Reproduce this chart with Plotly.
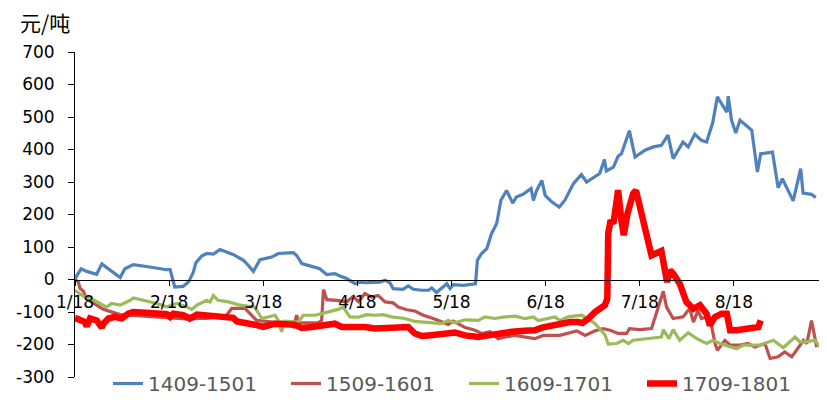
import plotly.graph_objects as go

# ---- data (x = trading-day index counted from 1/18; y = spread in 元/吨) ----
tick_vals = [0, 20, 40, 60, 80, 100, 120, 140]
tick_text = ["1/18", "2/18", "3/18", "4/18", "5/18", "6/18", "7/18", "8/18"]
y_tick_vals = [-300, -200, -100, 0, 100, 200, 300, 400, 500, 600, 700]
y_tick_text = ["-300", "-200", "-100", "0", "100", "200", "300", "400", "500", "600", "700"]
series_names = ["1409-1501", "1509-1601", "1609-1701", "1709-1801"]

blue_x = [0,1.3,2.5,4.6,5.7,6.7,8.5,9.6,10.6,12.4,15.2,19.5,20.2,21.2,23,24.1,25.1,25.7,26.9,28,29.4,30.8,33.6,34.4,35.8,36.8,37.9,39.3,41.8,43.2,46.4,47.1,48.2,49.9,52,53.5,55.2,56.3,57.7,59.5,60.5,61.6,64.8,65.9,66.9,67.6,69.7,70.8,71.9,73.7,75.1,75.8,76.8,78.2,79,79.7,80.4,82.5,84.3,85.1,85.5,86.4,87.5,88.5,89.6,90.1,90.5,91.7,93,93.8,95.2,96.9,97.4,98.1,99.2,99.9,101.3,102.9,104.1,105.9,107.6,108.7,110.1,111.5,112.5,112.9,114.4,115.4,116.1,117.8,119,121.1,122.9,124.6,126,127.1,129.2,130.3,131.7,133.1,134.2,135.5,136.5,138.5,138.8,139.5,140.4,141.3,143,143.8,145,145.7,148.2,149.4,150.3,152.6,154.2,154.7,156.5,157.4]
blue_y = [3,33,25,16,48,37,18,6,33,46,40,30,31,-23,-21,-8,21,52,72,80,78,92,77,71,59,44,25,61,69,80,83,74,49,42,33,15,18,11,3,-13,-8,-10,-8,-2,-10,-28,-30,-20,-30,-33,-33,-26,-40,-23,-13,-28,-16,-18,-13,-13,59,80,95,141,172,213,244,274,235,254,262,280,243,274,305,259,239,223,244,295,323,300,313,326,369,334,346,379,387,458,377,398,408,413,444,372,423,408,447,428,423,482,562,515,564,490,451,490,469,459,331,387,392,282,310,242,341,266,262,252]

brown_x = [0,0.7,1.1,1.8,2.3,3.2,4.6,6,7.4,9.6,13.8,20.2,24.4,26.1,28,32.2,33.3,36.1,37.5,38.6,42.1,45,46.4,47.1,47.5,49.6,51.7,52.4,52.8,53.5,55.6,57.7,59.1,60.2,61.6,63,64.4,65.9,67.6,68.7,70.5,72.2,74,76.1,78.2,79.3,80.4,82.9,85,86.4,88.2,89.9,91.4,93.5,97.7,99.5,103,104.8,106.6,108.4,110.5,112.2,113.7,115.4,117.2,117.8,120,122.5,123.5,125,125.7,127.1,129.2,130.6,131.4,132.4,133.1,134.2,135.3,136,136.5,138.1,139.2,141.3,143,144.5,146.6,147.7,149.4,150.8,152.3,153.7,154.8,155.5,156.5,157.6]
brown_y = [0,-8,-28,-36,-57,-67,-79,-92,-98,-108,-112,-118,-122,-120,-120,-110,-89,-89,-110,-126,-131,-131,-146,-110,-133,-134,-133,-126,-31,-62,-64,-69,-52,-68,-43,-54,-49,-69,-72,-85,-93,-97,-110,-120,-131,-138,-128,-148,-156,-166,-161,-182,-177,-172,-182,-172,-172,-166,-158,-172,-158,-151,-156,-166,-166,-151,-154,-151,-105,-36,-85,-120,-115,-89,-131,-95,-120,-115,-146,-197,-218,-187,-202,-202,-197,-208,-197,-243,-238,-223,-238,-208,-187,-197,-126,-208]

green_x = [0,1.8,4.1,6.7,7.8,9.6,11.7,12.4,14.5,17.4,19.5,21.6,23.4,24.8,25.9,28,28.7,29.4,30.4,32.6,35.1,38.2,39.7,41.4,42.5,43.2,43.9,44.6,47.4,48.5,51,52.4,54.5,55.9,57,58.4,60.2,62,63.7,65.5,67.3,70.1,72.2,75.1,77.9,79.3,80.7,82.9,85.7,87.1,89.2,91.4,93.5,95.6,97.4,98.4,102,103,104.8,107.6,109.1,110.5,111.5,112.6,113.3,115.1,116.5,117.6,118.6,122.2,124.6,125,126.2,127.1,128.5,130.3,132.1,134.2,135.6,137,139.2,140.6,142,145.5,148.4,150.5,153,154,155.4,157.2,158.3]
green_y = [-33,-52,-64,-85,-74,-79,-64,-57,-64,-74,-84,-74,-82,-92,-79,-64,-69,-49,-64,-69,-79,-85,-120,-115,-110,-126,-161,-128,-131,-110,-110,-105,-98,-92,-85,-115,-116,-108,-110,-108,-115,-120,-129,-133,-136,-126,-133,-124,-126,-115,-120,-115,-113,-120,-115,-126,-115,-126,-115,-110,-120,-136,-154,-170,-199,-197,-187,-197,-187,-182,-177,-154,-182,-154,-187,-164,-182,-197,-187,-197,-208,-213,-202,-202,-187,-210,-177,-192,-192,-187,-208]

red_x = [0,1.1,2.1,2.5,3.2,4.6,5.7,6,7.1,8.5,9.9,11.3,12.4,15.9,19.5,20.2,20.9,23,24.4,25.9,30.1,33.6,34.4,36.5,38.2,40,42.5,46.7,48.2,50.3,52.4,55.2,56.7,61.6,63.7,66.6,70.8,72.2,73.7,75.1,76.5,77.9,79.3,80.7,82.9,85.7,87.8,89.9,92.8,95.6,97.7,99.2,100.6,102.3,103.7,105.2,106.9,107.8,109.1,110.5,112.6,113.1,113.3,113.8,114.4,115.1,115.4,116.1,116.6,117.4,118.6,119.2,120,122.5,124.6,125.8,126.4,127.1,128.5,129.9,131.4,132.8,134.2,134.9,136,137.4,138.5,139.2,140.6,142.7,144.1,145.2,145.7]
red_y = [-118,-126,-131,-144,-120,-126,-148,-136,-120,-115,-120,-105,-100,-103,-107,-115,-105,-110,-120,-108,-112,-118,-129,-133,-139,-146,-136,-139,-149,-146,-143,-136,-146,-146,-151,-149,-146,-166,-174,-172,-170,-172,-166,-163,-172,-177,-172,-166,-161,-158,-156,-148,-144,-138,-136,-131,-131,-134,-120,-100,-79,-59,141,182,172,269,275,182,136,203,264,274,223,74,88,-8,28,18,-13,-69,-90,-79,-105,-141,-115,-105,-105,-156,-156,-151,-146,-146,-126]

series = [
    (series_names[0], blue_x, blue_y, "#4F81BD", 3.2),
    (series_names[1], brown_x, brown_y, "#C0504D", 3.2),
    (series_names[2], green_x, green_y, "#9BBB59", 3.2),
    (series_names[3], red_x, red_y, "#FF0000", 6.5),
]

fig = go.Figure()
for name, xs, ys, color, w in series:
    fig.add_trace(go.Scatter(
        x=xs, y=ys, mode="lines", name=name,
        line=dict(color=color, width=w, shape="linear"),
        hoverinfo="skip",
    ))

# the page body adds an 8px offset, so the figure is 8px smaller in each direction
fig.update_layout(
    width=819, height=402,
    margin=dict(l=67, r=7, t=44, b=33, autoexpand=False),
    plot_bgcolor="white", paper_bgcolor="white",
    font=dict(family="DejaVu Sans", color="#000000"),
    showlegend=True,
    legend=dict(
        orientation="h", x=0.0443, xanchor="left", y=-0.02, yanchor="middle",
        entrywidth=133, entrywidthmode="pixels",
        font=dict(size=20, color="#595959", family="DejaVu Sans"),
        bgcolor="rgba(0,0,0,0)", traceorder="normal",
    ),
    xaxis=dict(
        range=[0, 158.3], tickmode="array", tickvals=tick_vals, ticktext=tick_text,
        anchor="free", position=0.3,
        showline=True, linecolor="#000000", linewidth=1,
        ticks="outside", ticklen=5, tickcolor="#000000", tickwidth=1,
        showgrid=False, zeroline=False,
        tickfont=dict(size=17, color="#000000"),
        ticklabelstandoff=2,
    ),
    yaxis=dict(
        range=[-300, 700], tickmode="array", tickvals=y_tick_vals, ticktext=y_tick_text,
        showline=True, linecolor="#000000", linewidth=1,
        ticks="outside", ticklen=6, tickcolor="#000000", tickwidth=1,
        showgrid=False, zeroline=False,
        tickfont=dict(size=17, color="#000000"),
        ticklabelstandoff=10,
    ),
    annotations=[dict(
        text="元/吨", xref="paper", yref="paper",
        x=-0.0765, y=1.091, xanchor="left", yanchor="middle",
        showarrow=False,
        font=dict(family="Noto Sans CJK SC", size=21, color="#000000"),
    )],
)

fig.write_html("out.html")
